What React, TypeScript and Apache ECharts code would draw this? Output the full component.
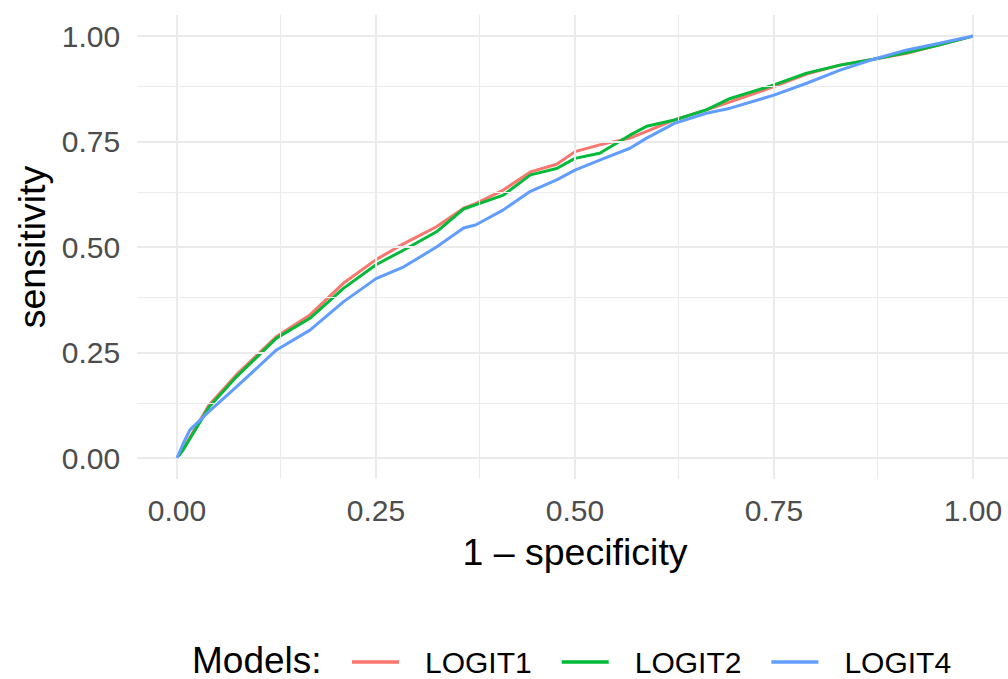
import { useEffect, useRef } from "react";
import * as echarts from "echarts";

const fpr = [0, 0.008, 0.016, 0.04, 0.075, 0.125, 0.167, 0.209, 0.25, 0.285, 0.326, 0.36, 0.375, 0.41, 0.444, 0.477, 0.5, 0.531, 0.569, 0.59, 0.625, 0.665, 0.695, 0.75, 0.791, 0.833, 0.875, 0.917, 0.958, 1.0];
const logit1 = [0, 0.022, 0.048, 0.125, 0.198, 0.288, 0.339, 0.414, 0.47, 0.508, 0.548, 0.592, 0.603, 0.635, 0.678, 0.696, 0.726, 0.742, 0.758, 0.774, 0.801, 0.825, 0.844, 0.88, 0.91, 0.931, 0.945, 0.959, 0.979, 1.0];
const logit2 = [0, 0.02, 0.045, 0.12, 0.193, 0.284, 0.331, 0.402, 0.458, 0.493, 0.536, 0.59, 0.6, 0.623, 0.671, 0.686, 0.71, 0.722, 0.765, 0.786, 0.801, 0.825, 0.852, 0.884, 0.912, 0.931, 0.945, 0.961, 0.979, 1.0];
const logit4 = [0, 0.035, 0.066, 0.11, 0.169, 0.256, 0.303, 0.37, 0.425, 0.453, 0.5, 0.545, 0.552, 0.588, 0.632, 0.659, 0.682, 0.706, 0.734, 0.758, 0.793, 0.817, 0.829, 0.86, 0.888, 0.919, 0.945, 0.967, 0.983, 1.0];

const models = ["LOGIT1", "LOGIT2", "LOGIT4"];
const colors = ["#F8766D", "#00BA38", "#619CFF"];
const majorTicks = [0, 0.25, 0.5, 0.75, 1];
const minorTicks = [0.125, 0.375, 0.625, 0.875];

const FONT = "'Liberation Sans', Arial, sans-serif";

export default function App() {
  const ref = useRef<HTMLDivElement>(null);
  useEffect(() => {
    if (!ref.current) return;
    const chart = echarts.init(ref.current, null, { renderer: "svg" });
    const seriesData = [logit1, logit2, logit4];
    const gridLines: any[] = [];
    majorTicks.forEach((v) => {
      gridLines.push({ xAxis: v, lineStyle: { width: 2.1, color: "#ebebeb", type: "solid" } });
      gridLines.push({ yAxis: v, lineStyle: { width: 2.1, color: "#ebebeb", type: "solid" } });
    });
    minorTicks.forEach((v) => {
      gridLines.push({ xAxis: v, lineStyle: { width: 1.1, color: "#ebebeb", type: "solid" } });
      gridLines.push({ yAxis: v, lineStyle: { width: 1.1, color: "#ebebeb", type: "solid" } });
    });
    const series: any[] = [
      {
        type: "line",
        name: "__grid",
        data: [],
        silent: true,
        z: 1,
        markLine: {
          silent: true,
          symbol: ["none", "none"],
          label: { show: false },
          animation: false,
          data: gridLines,
        },
      },
    ];
    models.forEach((m, i) => {
      series.push({
        type: "line",
        name: m,
        data: fpr.map((x, j) => [x, seriesData[i][j]]),
        showSymbol: false,
        symbol: "none",
        z: 3 + i,
        lineStyle: { color: colors[i], width: 3 },
        itemStyle: { color: colors[i] },
      });
    });
    chart.setOption({
      animation: false,
      backgroundColor: "#ffffff",
      grid: { left: 137.2, right: 0, top: 14.9, bottom: 199.9, containLabel: false },
      xAxis: {
        type: "value",
        min: -0.05,
        max: 1.044,
        axisLine: { show: false },
        axisTick: { show: false },
        splitLine: { show: false },
        axisLabel: {
          customValues: majorTicks,
          formatter: (v: number) => v.toFixed(2),
          color: "#4d4d4d",
          fontSize: 30,
          fontFamily: FONT,
          margin: 16,
        },
      },
      yAxis: {
        type: "value",
        min: -0.05,
        max: 1.05,
        axisLine: { show: false },
        axisTick: { show: false },
        splitLine: { show: false },
        axisLabel: {
          customValues: majorTicks,
          formatter: (v: number) => v.toFixed(2),
          color: "#4d4d4d",
          fontSize: 30,
          fontFamily: FONT,
          margin: 17,
        },
      },
      legend: {
        data: models,
        left: 347,
        top: 642,
        icon: "rect",
        itemWidth: 47,
        itemHeight: 3.5,
        itemGap: 30,
        textStyle: { fontSize: 30, color: "#000000", fontFamily: FONT, padding: [0, 0, 0, 21] },
      },
      graphic: [
        {
          type: "text",
          x: 575,
          y: 552,
          style: { text: "1 – specificity", font: `37.5px ${FONT}`, fill: "#000000", align: "center", verticalAlign: "middle" },
        },
        {
          type: "text",
          x: 32,
          y: 247,
          rotation: Math.PI / 2,
          style: { text: "sensitivity", font: `37.5px ${FONT}`, fill: "#000000", align: "center", verticalAlign: "middle" },
        },
        {
          type: "text",
          x: 192,
          y: 660,
          style: { text: "Models:", font: `37px ${FONT}`, fill: "#000000", align: "left", verticalAlign: "middle" },
        },
      ],
      series,
    });
    return () => chart.dispose();
  }, []);
  return (
    <div
      ref={ref}
      style={{ position: "absolute", left: 0, top: 0, width: 1008, height: 679 }}
    />
  );
}
